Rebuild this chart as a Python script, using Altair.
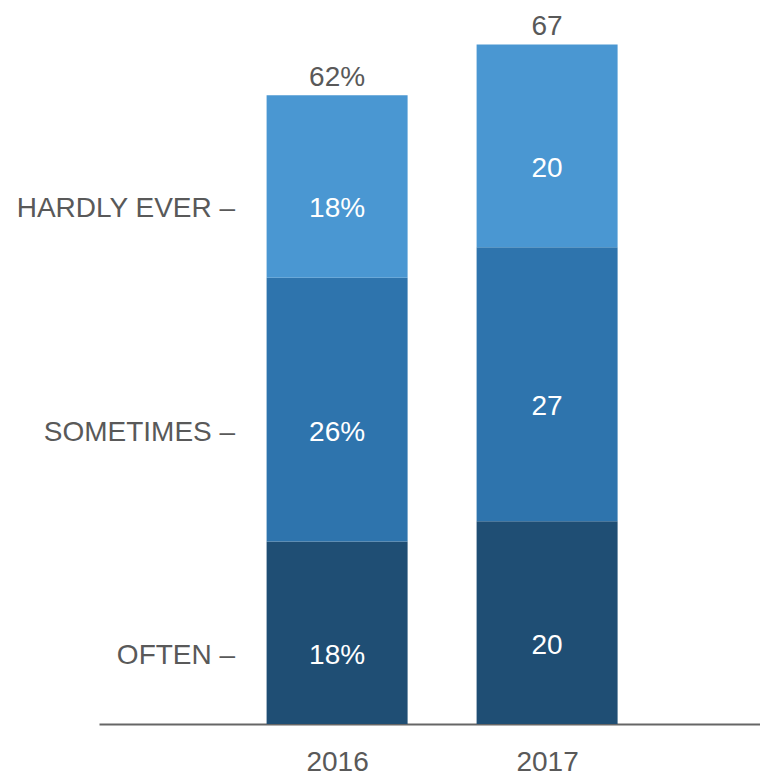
import altair as alt
import pandas as pd

# ---- data ----
years = [2016, 2016, 2016, 2017, 2017, 2017]
categories = ["OFTEN", "SOMETIMES", "HARDLY EVER", "OFTEN", "SOMETIMES", "HARDLY EVER"]
values = [18, 26, 18, 20, 27, 20]
segment_labels = ["18%", "26%", "18%", "20", "27", "20"]

total_years = [2016, 2017]
totals = [62, 67]
total_labels = ["62%", "67"]

cat_order = ["OFTEN", "SOMETIMES", "HARDLY EVER"]
cat_colors = ["#1F4E74", "#2E74AD", "#4A97D2"]
left_labels = ["OFTEN –", "SOMETIMES –", "HARDLY EVER –"]

df = pd.DataFrame({
    "year": years,
    "category": categories,
    "value": values,
    "label": segment_labels,
})
df["order"] = df["category"].map({c: i for i, c in enumerate(cat_order)})
df["left_label"] = df["category"].map(dict(zip(cat_order, left_labels)))

tot = pd.DataFrame({"year": total_years, "total": totals, "label": total_labels})

FONT = "Liberation Sans"
GRAY = "#595959"
FS = 28

xscale = alt.Scale(domain=[2014.89, 2017.99], zero=False, nice=False)
yscale = alt.Scale(domain=[0, 70], nice=False)

base = alt.Chart(df).transform_stack(
    stack="value", groupby=["year"], as_=["y0", "y1"], sort=[alt.SortField("order")]
).transform_calculate(mid="(datum.y0 + datum.y1) / 2")

bars = base.mark_bar(size=141).encode(
    x=alt.X("year:Q", scale=xscale, title=None,
            axis=alt.Axis(values=[2016, 2017], format="d", grid=False, ticks=False,
                          tickSize=0, domainColor="#666666", domainWidth=2,
                          labelColor=GRAY, labelFontSize=FS, labelFont=FONT,
                          labelBaseline="alphabetic", labelPadding=46)),
    y=alt.Y("y0:Q", scale=yscale, axis=None),
    y2="y1:Q",
    color=alt.Color("category:N", scale=alt.Scale(domain=cat_order, range=cat_colors), legend=None),
)

inner = base.mark_text(color="white", fontSize=FS, font=FONT, baseline="middle", dy=23).encode(
    x=alt.X("year:Q", scale=xscale),
    y=alt.Y("mid:Q", scale=yscale),
    text="label:N",
)

left = base.transform_filter("datum.year == 2016").mark_text(
    color=GRAY, fontSize=FS, font=FONT, baseline="middle", align="right", dy=23, dx=-102
).encode(
    x=alt.X("year:Q", scale=xscale),
    y=alt.Y("mid:Q", scale=yscale),
    text="left_label:N",
)

top = alt.Chart(tot).mark_text(
    color=GRAY, fontSize=FS, font=FONT, baseline="alphabetic", dy=-9
).encode(
    x=alt.X("year:Q", scale=xscale),
    y=alt.Y("total:Q", scale=yscale),
    text="label:N",
)

chart = alt.layer(bars, inner, left, top).properties(
    width=661, height=710,
    padding={"left": 99, "top": 14, "right": 0, "bottom": 52},
    autosize=alt.AutoSizeParams(type="none"),
    background="white",
).configure_view(strokeWidth=0, stroke="transparent")

chart.save("out.html", embed_options={"renderer": "svg", "actions": False})
